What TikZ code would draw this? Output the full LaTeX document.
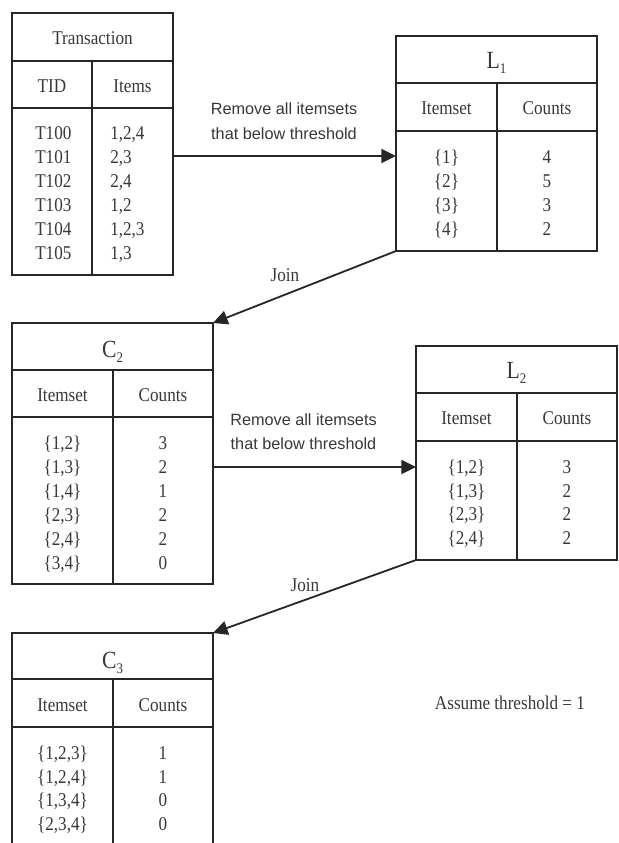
\documentclass[tikz,border=0pt]{standalone}
\usepackage{fontspec}
\setmainfont{Liberation Serif}[FakeStretch=0.88]
\newfontfamily\lblfont{Liberation Sans}
\usetikzlibrary{arrows.meta}
\definecolor{linec}{HTML}{262626}
\definecolor{txtc}{HTML}{383838}
\newcommand\subsc[1]{\raisebox{-3.8pt}{\fontsize{11}{11}\selectfont #1}}
\begin{document}
\begin{tikzpicture}[x=0.75pt,y=-0.75pt,
  tblbox/.style={draw=linec, line width=1.35pt, inner sep=0pt, outer sep=0pt, anchor=north west},
  ln/.style={draw=linec, line width=1.35pt},
  arr/.style={draw=linec, line width=1.35pt, -{Triangle[length=11pt,width=10.5pt]}},
  txt/.style={text=txtc, inner sep=0pt, anchor=base, font=\fontsize{14.6}{17}\selectfont},
  ttl/.style={text=txtc, inner sep=0pt, anchor=base, font=\fontsize{18.5}{21}\selectfont},
  lbl/.style={text=txtc, inner sep=0pt, anchor=base, font=\lblfont\fontsize{12.2}{15}\selectfont}]
\useasboundingbox[fill=white] (0,0) rectangle (618,843);

% ---------- Transaction ----------
\node[tblbox, minimum width=120.75pt, minimum height=196.5pt] (T) at (12,13) {};
\draw[ln] (12,61) -- (173,61);
\draw[ln] (12,108) -- (173,108);
\draw[ln] (92,61) -- (92,275);
\node[txt] (tT) at (92.5,44.5) {Transaction};
\node[txt] (tTID) at (52,92.5) {TID};
\node[txt] (tItems) at (132.5,92.5) {Items};
\foreach \i/\a/\b [count=\k from 0] in {T100/{1,2,4},T101/{2,3},T102/{2,4},T103/{1,2},T104/{1,2,3},T105/{1,3}}{
  \node[txt, anchor=base west] (tr\k) at (35,139.5+24*\k) {\i};
  \node[txt, anchor=base west] (ti\k) at (110,139.5+24*\k) {\a};
}

% ---------- L1 ----------
\node[tblbox, minimum width=150.75pt, minimum height=161.25pt] (L1) at (396,36) {};
\draw[ln] (396,83) -- (597,83);
\draw[ln] (396,131) -- (597,131);
\draw[ln] (497,83) -- (497,251);
\node[ttl] (L1t) at (496.5,68) {L\subsc{1}};
\node[txt] (L1h1) at (446.5,114.5) {Itemset};
\node[txt] (L1h2) at (547,114.5) {Counts};
\foreach \a/\b [count=\k from 0] in {{\{1\}}/4,{\{2\}}/5,{\{3\}}/3,{\{4\}}/2}{
  \node[txt] (L1a\k) at (446.5,163.5+24*\k) {\a};
  \node[txt] (L1b\k) at (547,163.5+24*\k) {\b};
}

% ---------- C2 ----------
\node[tblbox, minimum width=150.75pt, minimum height=195.75pt] (C2) at (12,323) {};
\draw[ln] (12,370) -- (213,370);
\draw[ln] (12,417) -- (213,417);
\draw[ln] (113,370) -- (113,584);
\node[ttl] (C2t) at (112.5,357) {C\subsc{2}};
\node[txt] (C2h1) at (62.5,401.5) {Itemset};
\node[txt] (C2h2) at (163,401.5) {Counts};
\foreach \a/\b [count=\k from 0] in {{\{1,2\}}/3,{\{1,3\}}/2,{\{1,4\}}/1,{\{2,3\}}/2,{\{2,4\}}/2,{\{3,4\}}/0}{
  \node[txt] (C2a\k) at (62.5,449.5+24*\k) {\a};
  \node[txt] (C2b\k) at (163,449.5+24*\k) {\b};
}

% ---------- L2 ----------
\node[tblbox, minimum width=150.75pt, minimum height=160.5pt] (L2) at (416,346) {};
\draw[ln] (416,393) -- (617,393);
\draw[ln] (416,441) -- (617,441);
\draw[ln] (517,393) -- (517,560);
\node[ttl] (L2t) at (516.5,378) {L\subsc{2}};
\node[txt] (L2h1) at (466.5,424.5) {Itemset};
\node[txt] (L2h2) at (567,424.5) {Counts};
\foreach \a/\b [count=\k from 0] in {{\{1,2\}}/3,{\{1,3\}}/2,{\{2,3\}}/2,{\{2,4\}}/2}{
  \node[txt] (L2a\k) at (466.5,473.5+23.6*\k) {\a};
  \node[txt] (L2b\k) at (567,473.5+23.6*\k) {\b};
}

% ---------- C3 (open at the bottom) ----------
\node[inner sep=0pt, outer sep=0pt, anchor=north west, minimum width=150.75pt, minimum height=165pt] (C3) at (12,633) {};
\draw[ln] (C3.south west) |- (C3.north east) -- (C3.south east);
\draw[ln] (12,679) -- (213,679);
\draw[ln] (12,727) -- (213,727);
\draw[ln] (113,679) -- (113,853);
\node[ttl] (C3t) at (112.5,668) {C\subsc{3}};
\node[txt] (C3h1) at (62.5,711.5) {Itemset};
\node[txt] (C3h2) at (163,711.5) {Counts};
\foreach \a/\b [count=\k from 0] in {{\{1,2,3\}}/1,{\{1,2,4\}}/1,{\{1,3,4\}}/0,{\{2,3,4\}}/0}{
  \node[txt] (C3a\k) at (62.5,759.5+23.5*\k) {\a};
  \node[txt] (C3b\k) at (163,759.5+23.5*\k) {\b};
}

% ---------- connectors ----------
\coordinate (y1) at (0,156);
\coordinate (y2) at (0,467);
\draw[arr] (T.east |- y1) -- (L1.west |- y1);
\draw[arr] (L1.south west) -- (C2.north east);
\draw[arr] (C2.east |- y2) -- (L2.west |- y2);
\draw[arr] (L2.south west) -- (C3.north east);

% ---------- labels ----------
\node[lbl] (r1a) at (284,114) {Remove all itemsets};
\node[lbl] (r1b) at (284,139) {that below threshold};
\node[lbl] (r2a) at (303.5,425) {Remove all itemsets};
\node[lbl] (r2b) at (303.5,449.5) {that below threshold};
\node[txt] (j1) at (285,281.5) {Join};
\node[txt] (j2) at (305,591.5) {Join};
\node[txt] (thr) at (510,709.5) {Assume threshold = 1};
\end{tikzpicture}
\end{document}
